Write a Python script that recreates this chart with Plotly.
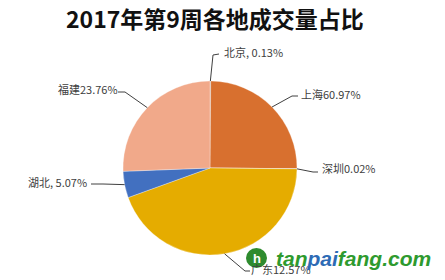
import math
import plotly.graph_objects as go

# ---- data ----
regions = ["北京", "上海", "深圳", "广东", "湖北", "福建"]
slice_values = [0.13, 25.0, 0.02, 44.3, 4.9, 25.6]   # slice sizes as drawn
label_texts = ["北京, 0.13%", "上海60.97%", "深圳0.02%", "广东12.57%", "湖北, 5.07%", "福建23.76%"]
colors = ["#9E9E9E", "#D8702F", "#A5A5A5", "#E5AC00", "#4270C0", "#F1A98A"]

W, H = 445, 280
CX, CY, R = 210, 168, 87

# label layout: (elbow x, elbow y, end x, end y, text anchor x, text y, xanchor)
label_layout = [
    (213, 55, 219, 54, 222, 52, "left"),
    (292, 96, 298, 96, 299, 94, "left"),
    (313, 172, 318, 172, 320, 168, "left"),
    (245, 271, 250, 271, 249, 269, "left"),
    (103, 184, 91, 184, 89, 182, "right"),
    (125, 92, 118, 92, 120, 89, "right"),
]

def px(x):
    return x / W

def py(y):
    return 1 - y / H

fig = go.Figure()
fig.add_trace(go.Pie(
    labels=regions, values=slice_values, sort=False, direction="clockwise",
    rotation=0, textinfo="none", hoverinfo="label",
    marker=dict(colors=colors, line=dict(color="rgba(255,255,255,0.6)", width=0.5)),
    domain=dict(x=[px(CX - R), px(CX + R)], y=[py(CY + R), py(CY - R)]),
    showlegend=False,
))

total = sum(slice_values)
shapes = []
annotations = []
cum = 0.0
for v, txt, lay in zip(slice_values, label_texts, label_layout):
    mid = (cum + v / 2) / total * 2 * math.pi
    cum += v
    ax = CX + R * math.sin(mid)
    ay = CY - R * math.cos(mid)
    ex, ey, fx, fy, tx, ty, xa = lay
    path = f"M {px(ax)} {py(ay)} L {px(ex)} {py(ey)} L {px(fx)} {py(fy)}"
    shapes.append(dict(type="path", xref="paper", yref="paper", path=path,
                       line=dict(color="#404040", width=1)))
    annotations.append(dict(x=px(tx), y=py(ty), xref="paper", yref="paper",
                            text=txt, showarrow=False, xanchor=xa, yanchor="middle",
                            font=dict(size=11, color="#404040",
                                      family="Noto Sans CJK SC, sans-serif")))

# title
annotations.append(dict(x=px(215), y=py(18), xref="paper", yref="paper",
                        text="<b>2017年第9周各地成交量占比</b>", showarrow=False,
                        xanchor="center", yanchor="middle",
                        font=dict(size=23, color="#111111",
                                  family="Noto Sans CJK SC, sans-serif")))

# watermark
shapes.append(dict(type="circle", xref="paper", yref="paper",
                   x0=px(246), x1=px(267), y0=py(268), y1=py(248),
                   fillcolor="#2E8B2E", line=dict(width=0)))
annotations.append(dict(x=px(256.5), y=py(258), xref="paper", yref="paper",
                        text="<b>h</b>", showarrow=False, xanchor="center", yanchor="middle",
                        font=dict(size=13, color="white", family="Arial")))
annotations.append(dict(x=px(274), y=py(258), xref="paper", yref="paper",
                        text="<b><i><span style='color:#2E9A2E'>tan</span><span style='color:#2D6BB5'>pai</span><span style='color:#2E9A2E'>fang.com</span></i></b>",
                        showarrow=False, xanchor="left", yanchor="middle",
                        font=dict(size=21, family="Arial, Liberation Sans")))

fig.update_layout(
    width=W, height=H, margin=dict(l=0, r=0, t=0, b=0),
    paper_bgcolor="white", plot_bgcolor="white",
    shapes=shapes, annotations=annotations,
)
fig.write_html("out.html")
